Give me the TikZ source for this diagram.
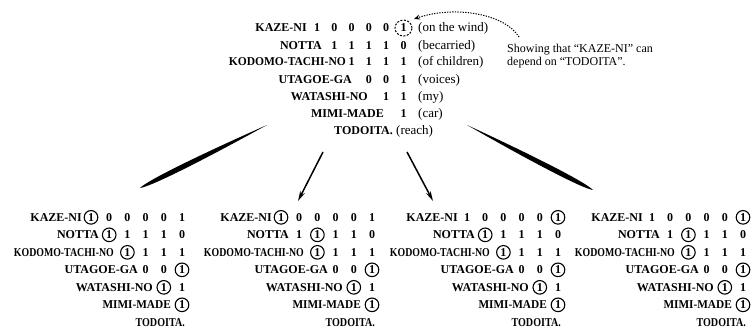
\documentclass[tikz,border=0pt]{standalone}
\usepackage{graphicx}
\usepackage{fontspec}
\setmainfont{Liberation Serif}
\usetikzlibrary{arrows.meta,calc}
\begin{document}
\begin{tikzpicture}[x=1pt,y=-1pt,
  wd/.style={font=\fontsize{12}{12}\selectfont\bfseries, inner sep=0pt, anchor=base east},
  num/.style={font=\fontsize{12}{12}\selectfont\bfseries, inner sep=0pt, anchor=base},
  gl/.style={font=\fontsize{13}{13}\selectfont, inner sep=0pt, anchor=base west},
  note/.style={font=\fontsize{12}{12}\selectfont, inner sep=0pt, anchor=base west},
  ring/.style={line width=1.1pt},
  dring/.style={line width=1pt, dash pattern=on 2pt off 1.5pt},
  thinarrow/.style={line width=1.5pt, -{Stealth[length=10pt,width=5pt]}},
  dotarrow/.style={line width=1pt, dash pattern=on 1.3pt off 1.3pt, -{Stealth[length=6pt,width=5pt]}}
]
\path[use as bounding box] (0,0) rectangle (752,329);

% ---------- top block ----------
\node[wd] (t0) at (307,32) {KAZE-NI};
\foreach \v [count=\j] in {1,0,0,0,0,1}
  \node[num] (t0-c\j) at ({317+17.3*(\j-1)},32) {\v};
\node[gl] (g0) at (418,32) {(on the wind)};

\node[wd] (t1) at (322,49) {NOTTA};
\foreach \v [count=\j from 2] in {1,1,1,1,0}
  \node[num] (t1-c\j) at ({317+17.3*(\j-1)},49) {\v};
\node[gl] (g1) at (418,49) {(becarried)};

\node[wd] (t2) at (346,66) {\scalebox{0.96}[1]{KODOMO-TACHI-NO}};
\foreach \v [count=\j from 3] in {1,1,1,1}
  \node[num] (t2-c\j) at ({317+17.3*(\j-1)},66) {\v};
\node[gl] (g2) at (418,66) {(of children)};

\node[wd] (t3) at (352,83) {UTAGOE-GA};
\foreach \v [count=\j from 4] in {0,0,1}
  \node[num] (t3-c\j) at ({317+17.3*(\j-1)},83) {\v};
\node[gl] (g3) at (418,83) {(voices)};

\node[wd] (t4) at (368,100) {WATASHI-NO};
\foreach \v [count=\j from 5] in {1,1}
  \node[num] (t4-c\j) at ({317+17.3*(\j-1)},100) {\v};
\node[gl] (g4) at (418,100) {(my)};

\node[wd] (t5) at (384,117) {MIMI-MADE};
\node[num] (t5-c6) at ({317+17.3*5},117) {1};
\node[gl] (g5) at (418,117) {(car)};

\node[wd] (t6) at (393,134) {TODOITA.};
\node[gl] (g6) at (396,134) {(reach)};

\draw[dring] (t0-c6.center) ellipse[x radius=8.5pt, y radius=8pt];

% annotation
\node[note] (n1) at (507,52.5) {Showing that ``KAZE-NI'' can};
\node[note] (n2) at (507,65.5) {depend on ``TODOITA''.};
\coordinate (cs) at (519,37);
\coordinate (ce) at (414,19);
\draw[dotarrow] (cs) .. controls (505,14) and (455,5) .. (ce);

% ---------- arrows ----------
\coordinate (a1s) at (267,125); \coordinate (a1e) at (140,188);
\coordinate (a4s) at (467,125); \coordinate (a4e) at (593,190);
\coordinate (a2s) at (323,152); \coordinate (a2e) at (298,201);
\coordinate (a3s) at (407,152); \coordinate (a3e) at (433,201);
\foreach \s/\e in {a1s/a1e, a4s/a4e}
  \fill (\s) .. controls ($(\s)!0.55!(\e)!3.4pt!90:(\e)$) and ($(\s)!0.93!(\e)!3.4pt!90:(\e)$) .. (\e)
        .. controls ($(\s)!0.93!(\e)!3.4pt!-90:(\e)$) and ($(\s)!0.55!(\e)!3.4pt!-90:(\e)$) .. (\s) -- cycle;
\draw[thinarrow] (a2s) -- (a2e);
\draw[thinarrow] (a3s) -- (a3e);

% ---------- bottom blocks ----------
\foreach \b/\dx/\ka/\nb in {1/0/1/2, 2/190/1/3, 3/376/6/2, 4/561/6/3} {
  \node[wd] (b\b-r0) at (\dx+82,221.3) {KAZE-NI};
  \foreach \v [count=\j] in {1,0,0,0,0,1}
    \node[num] (b\b-r0-c\j) at ({\dx+91+18.2*(\j-1)},221.3) {\v};
  \node[wd] (b\b-r1) at (\dx+99,238.8) {NOTTA};
  \foreach \v [count=\j from 2] in {1,1,1,1,0}
    \node[num] (b\b-r1-c\j) at ({\dx+91+18.2*(\j-1)},238.8) {\v};
  \node[wd] (b\b-r2) at (\dx+114,256.3) {\scalebox{0.82}[1]{KODOMO-TACHI-NO}};
  \foreach \v [count=\j from 3] in {1,1,1,1}
    \node[num] (b\b-r2-c\j) at ({\dx+91+18.2*(\j-1)},256.3) {\v};
  \node[wd] (b\b-r3) at (\dx+138,273.8) {UTAGOE-GA};
  \foreach \v [count=\j from 4] in {0,0,1}
    \node[num] (b\b-r3-c\j) at ({\dx+91+18.2*(\j-1)},273.8) {\v};
  \node[wd] (b\b-r4) at (\dx+153,291.3) {WATASHI-NO};
  \foreach \v [count=\j from 5] in {1,1}
    \node[num] (b\b-r4-c\j) at ({\dx+91+18.2*(\j-1)},291.3) {\v};
  \node[wd] (b\b-r5) at (\dx+171,308.8) {\scalebox{0.94}[1]{MIMI-MADE}};
  \node[num] (b\b-r5-c6) at ({\dx+91+18.2*5},308.8) {1};
  \node[wd] (b\b-r6) at (\dx+185,326.3) {\scalebox{0.84}[1]{TODOITA.}};
  \draw[ring] (b\b-r0-c\ka.center) circle[radius=6.8pt];
  \draw[ring] (b\b-r1-c\nb.center) circle[radius=6.8pt];
  \draw[ring] (b\b-r2-c3.center) circle[radius=6.8pt];
  \draw[ring] (b\b-r3-c6.center) circle[radius=6.8pt];
  \draw[ring] (b\b-r4-c5.center) circle[radius=6.8pt];
  \draw[ring] (b\b-r5-c6.center) circle[radius=6.8pt];
}
\end{tikzpicture}
\end{document}
